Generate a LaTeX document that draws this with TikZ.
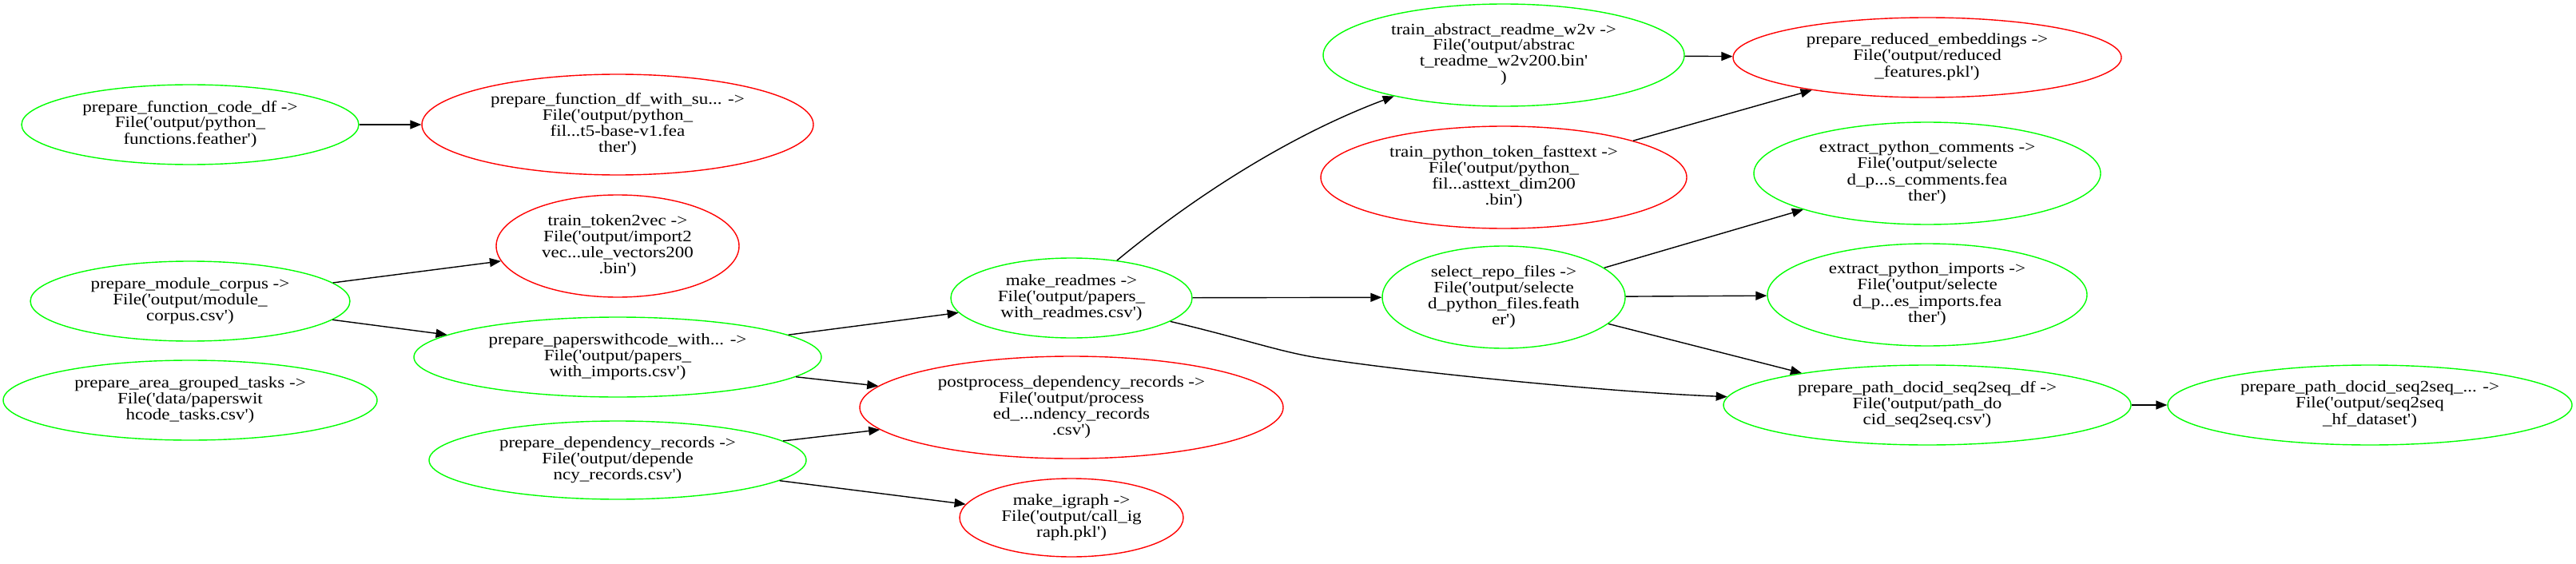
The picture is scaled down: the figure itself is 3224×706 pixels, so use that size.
\documentclass[tikz,border=0pt]{standalone}
\usepackage{fontspec}
\setmainfont{Liberation Serif}
\usepackage{graphicx}
\usetikzlibrary{shapes.geometric, arrows.meta}
\newcommand{\q}{\textquotesingle}
\newcommand{\lbl}[1]{\smash{\makebox[0pt]{\raisebox{-2.5pt}{\scalebox{1.15}[1]{\fontsize{10}{10}\selectfont\begin{tabular}{@{}c@{}}#1\end{tabular}}}}}}
\definecolor{gvgreen}{RGB}{0,255,0}
\definecolor{gvred}{RGB}{255,0,0}
\tikzset{
  task/.style={ellipse, draw, line width=0.7pt, inner sep=0pt},
  ok/.style={task, draw=gvgreen},
  bad/.style={task, draw=gvred},
  arr/.style={draw=black, line width=0.7pt, -{Triangle[length=7pt,width=5.5pt]}},
}
\newcommand{\E}[6]{\node[#1, minimum width=#4pt, minimum height=#5pt] (#2) at #3 {\lbl{#6}};}
\begin{document}
\begin{tikzpicture}[x=0.5pt, y=-0.5pt]
\useasboundingbox (0,0) rectangle (3224,706);
% column 0
\node[ok, minimum width=211pt, minimum height=50pt] (fc) at (238,156) {\lbl{prepare\_function\_code\_df ->\\File(\q output/python\_\\functions.feather\q)}};
\node[ok, minimum width=200pt, minimum height=50pt] (mc) at (238,377) {\lbl{prepare\_module\_corpus ->\\File(\q output/module\_\\corpus.csv\q)}};
\node[ok, minimum width=234pt, minimum height=50pt] (ag) at (238,501) {\lbl{prepare\_area\_grouped\_tasks ->\\File(\q data/paperswit\\hcode\_tasks.csv\q)}};
% column 1
\node[bad, minimum width=245pt, minimum height=63pt] (fd) at (773,156) {\lbl{prepare\_function\_df\_with\_su... ->\\File(\q output/python\_\\fil...t5-base-v1.fea\\ther\q)}};
\node[bad, minimum width=152pt, minimum height=64pt] (tt) at (773,308) {\lbl{train\_token2vec ->\\File(\q output/import2\\vec...ule\_vectors200\\.bin\q)}};
\node[ok, minimum width=255pt, minimum height=50pt] (pw) at (773,447) {\lbl{prepare\_paperswithcode\_with... ->\\File(\q output/papers\_\\with\_imports.csv\q)}};
\node[ok, minimum width=236pt, minimum height=49pt] (dr) at (773,576) {\lbl{prepare\_dependency\_records ->\\File(\q output/depende\\ncy\_records.csv\q)}};
% column 2
\node[ok, minimum width=151pt, minimum height=50pt] (mr) at (1341,373) {\lbl{make\_readmes ->\\File(\q output/papers\_\\with\_readmes.csv\q)}};
\node[bad, minimum width=265pt, minimum height=64pt] (pc) at (1341,510) {\lbl{postprocess\_dependency\_records ->\\File(\q output/process\\ed\_...ndency\_records\\.csv\q)}};
\node[bad, minimum width=140pt, minimum height=49pt] (ig) at (1341,648) {\lbl{make\_igraph ->\\File(\q output/call\_ig\\raph.pkl\q)}};
% column 3
\node[ok, minimum width=226pt, minimum height=64pt] (ta) at (1882,69) {\lbl{train\_abstract\_readme\_w2v ->\\File(\q output/abstrac\\t\_readme\_w2v200.bin\q\\)}};
\node[bad, minimum width=229pt, minimum height=64pt] (tp) at (1882,222) {\lbl{train\_python\_token\_fasttext ->\\File(\q output/python\_\\fil...asttext\_dim200\\.bin\q)}};
\node[ok, minimum width=152pt, minimum height=64pt] (sr) at (1882,372) {\lbl{select\_repo\_files ->\\File(\q output/selecte\\d\_python\_files.feath\\er\q)}};
% column 4
\node[bad, minimum width=243pt, minimum height=50pt] (re) at (2412,72) {\lbl{prepare\_reduced\_embeddings ->\\File(\q output/reduced\\\_features.pkl\q)}};
\node[ok, minimum width=217pt, minimum height=64pt] (ec) at (2412,217) {\lbl{extract\_python\_comments ->\\File(\q output/selecte\\d\_p...s\_comments.fea\\ther\q)}};
\node[ok, minimum width=200pt, minimum height=64pt] (ei) at (2412,369) {\lbl{extract\_python\_imports ->\\File(\q output/selecte\\d\_p...es\_imports.fea\\ther\q)}};
\node[ok, minimum width=255pt, minimum height=50pt] (pd) at (2412,507) {\lbl{prepare\_path\_docid\_seq2seq\_df ->\\File(\q output/path\_do\\cid\_seq2seq.csv\q)}};
% column 5
\node[ok, minimum width=253pt, minimum height=50pt] (pd2) at (2966,507) {\lbl{prepare\_path\_docid\_seq2seq\_... ->\\File(\q output/seq2seq\\\_hf\_dataset\q)}};
% edges
\draw[arr] (fc) -- (fd);
\draw[arr] (mc) -- (tt);
\draw[arr] (mc) -- (pw);
\draw[arr] (pw) -- (mr);
\draw[arr] (pw) -- (pc);
\draw[arr] (dr) -- (pc);
\draw[arr] (dr) -- (ig);
\draw[arr] (mr) .. controls (1496,245) and (1615,169) .. (ta);
\draw[arr] (mr) -- (sr);
\coordinate (bend) at (1650,448);
\draw[line width=0.7pt] (mr) .. controls (1560,425) and (1600,440) .. (bend);
\draw[arr] (bend) .. controls (1750,464) and (2000,490) .. (pd);
\draw[arr] (ta) -- (re);
\draw[arr] (tp) -- (re);
\draw[arr] (sr) -- (ec);
\draw[arr] (sr) -- (ei);
\draw[arr] (sr) -- (pd);
\draw[arr] (pd) -- (pd2);
\end{tikzpicture}
\end{document}
